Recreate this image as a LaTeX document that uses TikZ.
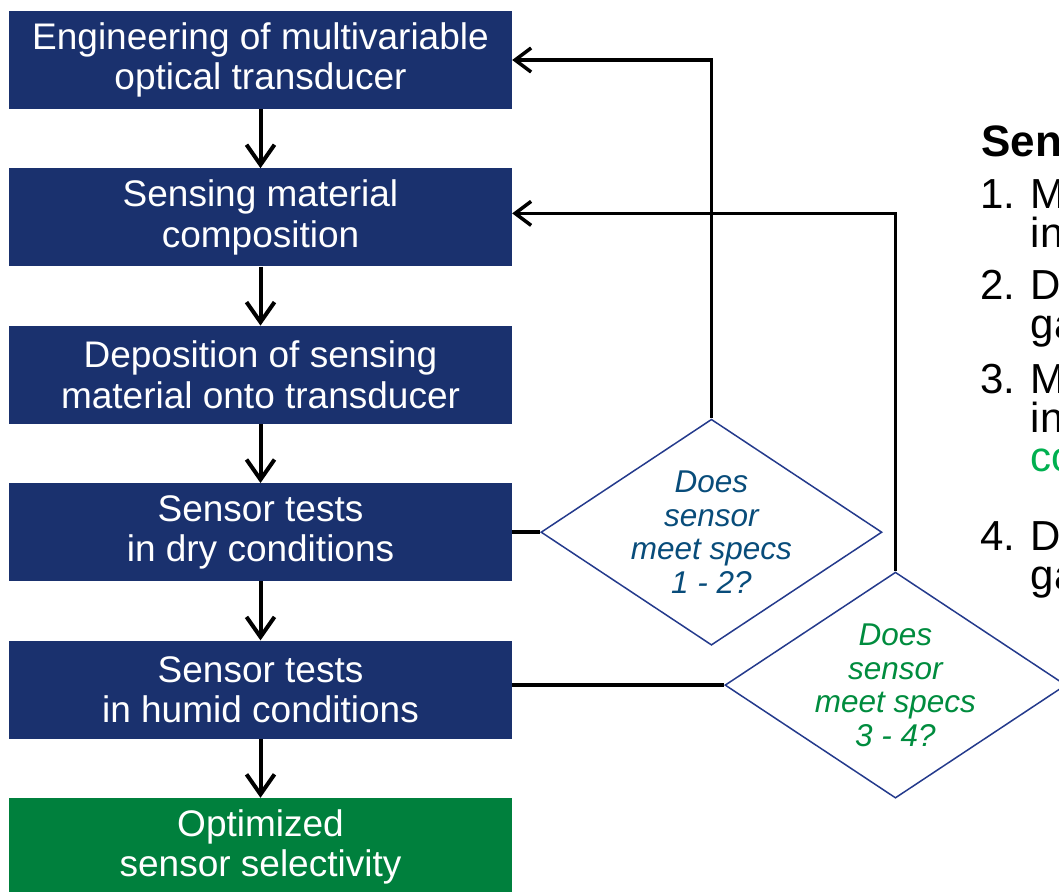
\documentclass[tikz,border=0pt]{standalone}
\usepackage{fontspec}
\setmainfont{Liberation Sans}
\usepackage{xcolor}
\usepackage{tikz}
\usetikzlibrary{shapes.geometric, arrows.meta, positioning}
\definecolor{cNavy}{RGB}{26,49,110}
\definecolor{cLeaf}{RGB}{0,128,61}
\definecolor{cEdge}{RGB}{36,58,140}
\definecolor{cDryTxt}{RGB}{8,76,122}
\definecolor{cWetTxt}{RGB}{0,140,62}
\definecolor{cSpec}{RGB}{0,176,80}
\tikzset{
	stage/.style    ={rectangle, minimum width=503pt, minimum height=98pt, inner sep=0pt, align=center, fill=cNavy, text=white, font=\fontsize{37}{40.5}\selectfont},
	decision/.style ={diamond, draw=cEdge, line width=1.5pt, minimum width=341pt, minimum height=226pt, inner sep=0pt},
	qtext/.style    ={align=center, inner sep=0pt, font=\fontsize{31.5}{33.5}\selectfont\itshape},
	flowarrow/.style={-{Straight Barb[length=20pt, width=28pt]}, line width=4pt},
	backarrow/.style={-{Straight Barb[length=16pt, width=24pt]}, line width=3.5pt},
	link/.style     ={line width=4pt},
	spec/.style     ={anchor=base west, align=left, inner sep=0pt, font=\fontsize{42}{39}\selectfont},
}
\begin{document}
\begin{tikzpicture}[node distance=59pt]
	\clip (0,0) rectangle (1059pt,-891pt);
	\node[stage] (s1) at (260.5pt,-60pt) {Engineering of multivariable\\optical transducer};
	\node[stage, below=of s1] (s2) {Sensing material\\composition};
	\node[stage, below=of s2] (s3) {Deposition of sensing\\material onto transducer};
	\node[stage, below=of s3] (s4) {Sensor tests\\in dry conditions};
	\node[stage, below=of s4] (s5) {Sensor tests\\in humid conditions};
	\node[stage, below=of s5, fill=cLeaf] (s6) {Optimized\\sensor selectivity};
	\node[decision, right=28pt of s4, label={[qtext, text=cDryTxt]center:{Does\\sensor\\meet specs\\1 - 2?}}] (q1) {};
	\node[decision, right=212pt of s5, yshift=4.5pt, label={[qtext, text=cWetTxt]center:{Does\\sensor\\meet specs\\3 - 4?}}] (q2) {};
	\draw[flowarrow] (s1) -- (s2); \draw[flowarrow] (s2) -- (s3); \draw[flowarrow] (s3) -- (s4);
	\draw[flowarrow] (s4) -- (s5); \draw[flowarrow] (s5) -- (s6);
	\draw[link] (s4) -- (q1);
	\draw[link] (q2.west) -- (q2.west -| s5.east);
	\draw[backarrow] (q1.north) |- (s1.east);
	\draw[backarrow] (q2.north) |- ([yshift=4pt]s2.east);
	% base of a multi-line node sits on its last line
	\node[anchor=base west, inner sep=0pt, font=\fontsize{44}{46}\selectfont\bfseries] (title) at (981pt,-156pt) {Sen};
	\node[spec] (sp1) at (980pt,-247pt) {1. M\\\hphantom{1. }in};
	\node[spec] (sp2) at (980pt,-338pt) {2. D\\\hphantom{2. }ga};
	\node[spec] (sp3) at (980pt,-471pt) {3. M\\\hphantom{3. }in\\\hphantom{3. }\textcolor{cSpec}{co}};
	\node[spec] (sp4) at (980pt,-589pt) {4. D\\\hphantom{4. }ga};
\end{tikzpicture}
\end{document}
